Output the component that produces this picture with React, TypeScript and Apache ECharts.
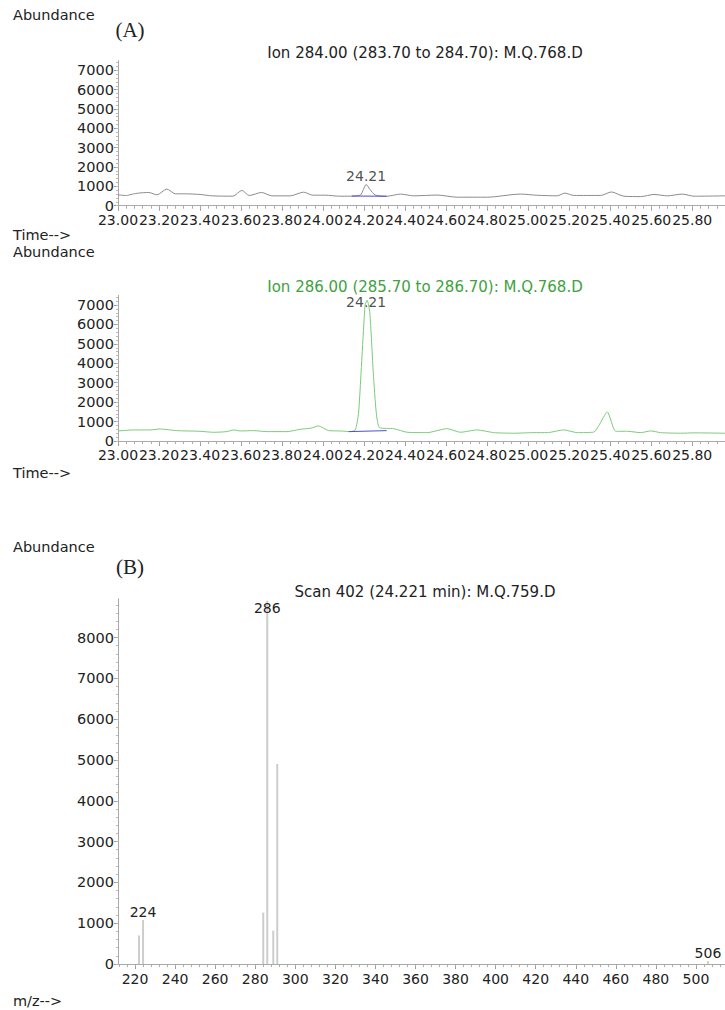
import React, { useEffect, useRef } from "react";
import * as echarts from "echarts";

// ---- Data ----
// Ion 284 chromatogram (gray trace)
const ion284Times = [
  23.0, 23.04, 23.07, 23.1, 23.15, 23.19, 23.238, 23.28, 23.33, 23.4, 23.46, 23.56, 23.604, 23.64,
  23.7, 23.75, 23.84, 23.905, 23.95, 24.01, 24.08, 24.133, 24.182, 24.197, 24.21, 24.228, 24.255,
  24.312, 24.377, 24.442, 24.556, 24.654, 24.8, 24.963, 25.044, 25.142, 25.179, 25.223, 25.354,
  25.406, 25.467, 25.549, 25.614, 25.679, 25.752, 25.809, 25.96,
];
const ion284Values = [
  560, 526, 596, 650, 684, 561, 860, 614, 614, 580, 509, 491, 790, 526,
  684, 509, 509, 700, 544, 544, 491, 491, 553, 850, 1100, 850, 550,
  490, 600, 510, 550, 440, 440, 600, 540, 510, 650, 530, 530,
  710, 490, 470, 580, 510, 600, 490, 510,
];
const base284Times = [24.14, 24.31];
const base284Values = [500, 490];

// Ion 286 chromatogram (green trace)
const ion286Times = [
  23.0, 23.075, 23.156, 23.205, 23.287, 23.4, 23.465, 23.53, 23.563, 23.596, 23.661, 23.726, 23.824,
  23.889, 23.938, 23.978, 24.027, 24.084, 24.133, 24.157, 24.173, 24.19, 24.205, 24.215, 24.228,
  24.245, 24.26, 24.276, 24.344, 24.41, 24.507, 24.605, 24.67, 24.751, 24.833, 24.93, 25.028,
  25.093, 25.174, 25.24, 25.321, 25.345, 25.386, 25.427, 25.484, 25.549, 25.598, 25.646, 25.744,
  25.809, 25.96,
];
const ion286Values = [
  517, 569, 569, 620, 534, 500, 448, 483, 569, 517, 534, 483, 483,
  603, 655, 776, 534, 517, 483, 569, 1430, 4400, 7000, 7250, 6600,
  3500, 1400, 680, 635, 450, 430, 635, 450, 570, 430, 400, 430,
  430, 570, 430, 460, 800, 1500, 500, 500, 430, 520, 430, 400,
  420, 400,
];
const base286Times = [24.125, 24.31];
const base286Values = [483, 534];

// Peak labels
const peak284 = [[24.21, 1100]];
const peak286 = [[24.21, 7250]];

// Mass spectrum, scan 402
const mzValues = [222, 224, 284, 286, 289, 291, 506];
const mzAbundance = [700, 1080, 1260, 8900, 816, 4900, 70];
const labeledMz = [224, 286, 506];

// Tick labels
const timeTickLabels = [
  "23.00", "23.20", "23.40", "23.60", "23.80", "24.00", "24.20", "24.40",
  "24.60", "24.80", "25.00", "25.20", "25.40", "25.60", "25.80",
];
const abundTicksA = [0, 1000, 2000, 3000, 4000, 5000, 6000, 7000];
const abundTicksB = [0, 1000, 2000, 3000, 4000, 5000, 6000, 7000, 8000];
const mzTickLabels = [220, 240, 260, 280, 300, 320, 340, 360, 380, 400, 420, 440, 460, 480, 500];

// ---- Styling constants ----
const FONT = '"DejaVu Sans", Verdana, sans-serif';
const TXT = "#222222";
const AXIS = "#aaaaaa";

const range = (a: number, b: number, step: number) => {
  const out: number[] = [];
  for (let v = a; v <= b + 1e-9; v += step) out.push(Math.round(v * 1000) / 1000);
  return out;
};

export default function App() {
  const ref = useRef<HTMLDivElement>(null);

  useEffect(() => {
    if (!ref.current) return;
    const chart = echarts.init(ref.current, undefined, { renderer: "svg" });

    const timeMajor = timeTickLabels.map((s) => parseFloat(s));
    const timeMinor = range(23.0, 25.96, 0.04);
    const abMinorA = range(0, 7400, 200);
    const abMinorB = range(0, 8900, 200);
    const mzMinor = range(212, 514, 4);

    const grids = [
      { left: 118, top: 60.6, width: 607, height: 145.1 },
      { left: 118, top: 295.3, width: 607, height: 145.7 },
      { left: 118, top: 598.8, width: 607, height: 365.2 },
    ];

    const xMajor = (gi: number, min: number, max: number, vals: number[], fmt: (v: number) => string, margin: number) => ({
      type: "value",
      gridIndex: gi,
      min,
      max,
      position: "bottom",
      axisLine: { show: true, onZero: false, lineStyle: { color: AXIS, width: 1 } },
      axisTick: { show: true, customValues: vals, length: 5, lineStyle: { color: "#999" } },
      axisLabel: {
        show: true,
        customValues: vals,
        formatter: fmt,
        showMinLabel: true,
        showMaxLabel: true,
        hideOverlap: false,
        fontFamily: FONT,
        fontSize: 14,
        color: TXT,
        margin,
      },
      splitLine: { show: false },
    });
    const xMinor = (gi: number, min: number, max: number, vals: number[]) => ({
      type: "value",
      gridIndex: gi,
      min,
      max,
      position: "bottom",
      axisLine: { show: false, onZero: false },
      axisTick: { show: true, customValues: vals, length: 3, lineStyle: { color: "#aaa" } },
      axisLabel: { show: false },
      splitLine: { show: false },
    });
    const yMajor = (gi: number, max: number, vals: number[]) => ({
      type: "value",
      gridIndex: gi,
      min: 0,
      max,
      position: "left",
      axisLine: { show: true, lineStyle: { color: AXIS, width: 1 } },
      axisTick: { show: true, customValues: vals, length: 4, lineStyle: { color: "#999" } },
      axisLabel: {
        show: true,
        customValues: vals,
        formatter: (v: number) => String(Math.round(v)),
        showMinLabel: true,
        showMaxLabel: true,
        fontFamily: FONT,
        fontSize: 14.5,
        color: TXT,
        margin: 4,
      },
      splitLine: { show: false },
    });
    const yMinor = (gi: number, max: number, vals: number[]) => ({
      type: "value",
      gridIndex: gi,
      min: 0,
      max,
      position: "left",
      axisLine: { show: false },
      axisTick: { show: true, customValues: vals, length: 2, lineStyle: { color: "#bbb" } },
      axisLabel: { show: false },
      splitLine: { show: false },
    });

    const fmtTime = (v: number) => v.toFixed(2);
    const fmtInt = (v: number) => String(Math.round(v));

    const zip = (xs: number[], ys: number[]) => xs.map((x, i) => [x, ys[i]]);

    const textEl = (text: string, x: number, y: number, opts: any = {}) => ({
      type: "text",
      x,
      y,
      silent: true,
      style: {
        text,
        fill: opts.fill || TXT,
        font: opts.font || `14.5px ${FONT}`,
        textAlign: opts.align || "left",
        align: opts.align || "left",
        textVerticalAlign: "middle",
        verticalAlign: "middle",
      },
    });

    const option: any = {
      animation: false,
      backgroundColor: "#ffffff",
      grid: grids,
      xAxis: [
        xMajor(0, 23.0, 25.96, timeMajor, fmtTime, 7),
        xMinor(0, 23.0, 25.96, timeMinor),
        xMajor(1, 23.0, 25.96, timeMajor, fmtTime, 7),
        xMinor(1, 23.0, 25.96, timeMinor),
        xMajor(2, 211.5, 514.5, mzTickLabels, fmtInt, 8),
        xMinor(2, 211.5, 514.5, mzMinor),
      ],
      yAxis: [
        yMajor(0, 7500, abundTicksA),
        yMinor(0, 7500, abMinorA),
        yMajor(1, 7500, abundTicksA),
        yMinor(1, 7500, abMinorA),
        yMajor(2, 8950, abundTicksB),
        yMinor(2, 8950, abMinorB),
      ],
      series: [
        {
          type: "line",
          xAxisIndex: 0,
          yAxisIndex: 0,
          data: zip(ion284Times, ion284Values),
          symbol: "none",
          smooth: 0.25,
          lineStyle: { color: "#8c8c8c", width: 1 },
        },
        {
          type: "line",
          xAxisIndex: 0,
          yAxisIndex: 0,
          data: zip(base284Times, base284Values),
          symbol: "none",
          lineStyle: { color: "#4a4ad0", width: 1 },
        },
        {
          type: "scatter",
          xAxisIndex: 0,
          yAxisIndex: 0,
          data: peak284,
          symbolSize: 0,
          label: {
            show: true,
            position: "top",
            distance: 1,
            formatter: (p: any) => p.value[0].toFixed(2),
            fontFamily: FONT,
            fontSize: 14,
            color: TXT,
          },
        },
        {
          type: "line",
          xAxisIndex: 2,
          yAxisIndex: 2,
          data: zip(ion286Times, ion286Values),
          symbol: "none",
          smooth: 0.2,
          lineStyle: { color: "#7acb7a", width: 1 },
        },
        {
          type: "line",
          xAxisIndex: 2,
          yAxisIndex: 2,
          data: zip(base286Times, base286Values),
          symbol: "none",
          lineStyle: { color: "#5050d0", width: 1 },
        },
        {
          type: "scatter",
          xAxisIndex: 2,
          yAxisIndex: 2,
          data: peak286,
          symbolSize: 0,
          label: {
            show: true,
            position: "top",
            distance: 0,
            offset: [0, 9],
            formatter: (p: any) => p.value[0].toFixed(2),
            fontFamily: FONT,
            fontSize: 14,
            color: TXT,
          },
        },
        {
          type: "bar",
          xAxisIndex: 4,
          yAxisIndex: 4,
          barWidth: 2,
          itemStyle: { color: "#cdcdcd" },
          data: mzValues.map((mz, i) => ({
            value: [mz, mzAbundance[i]],
            label: {
              show: labeledMz.includes(mz),
              position: mz === 286 ? "insideTop" : "top",
              distance: mz === 286 ? 0 : 1,
              formatter: String(mz),
              fontFamily: FONT,
              fontSize: 14,
              color: TXT,
            },
          })),
        },
      ],
      graphic: {
        elements: [
          textEl("Abundance", 13, 15),
          textEl("(A)", 130, 30, { font: '21px "Liberation Serif", "Times New Roman", serif', align: "center" }),
          textEl("Ion 284.00 (283.70 to 284.70): M.Q.768.D", 425, 53, { font: `15px ${FONT}`, align: "center" }),
          textEl("Time-->", 13, 235),
          textEl("Abundance", 13, 252),
          textEl("Ion 286.00 (285.70 to 286.70): M.Q.768.D", 425, 287, { font: `15px ${FONT}`, align: "center", fill: "#3ea23e" }),
          textEl("Time-->", 13, 473),
          textEl("Abundance", 13, 547),
          textEl("(B)", 130, 567, { font: '21px "Liberation Serif", "Times New Roman", serif', align: "center" }),
          textEl("Scan 402 (24.221 min): M.Q.759.D", 425, 592, { font: `15px ${FONT}`, align: "center" }),
          textEl("m/z-->", 13, 1001),
        ],
      },
    };

    chart.setOption(option);
    return () => chart.dispose();
  }, []);

  return (
    <div
      ref={ref}
      style={{ position: "absolute", left: 0, top: 0, width: 725, height: 1010, background: "#fff" }}
    />
  );
}
